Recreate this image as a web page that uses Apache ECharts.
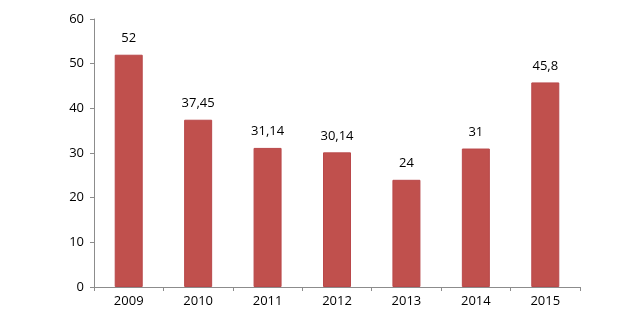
<!DOCTYPE html>
<html>
<head>
<meta charset="utf-8">
<script src="https://cdn.jsdelivr.net/npm/echarts@6/dist/echarts.min.js"></script>
<style>
	html, body { margin: 0; padding: 0; background: #fff; }
	#chart { width: 640px; height: 327px; }
</style>
</head>
<body>
<div id="chart"></div>
<script>
	var years = ['2009', '2010', '2011', '2012', '2013', '2014', '2015'];
	var values = [52, 37.45, 31.14, 30.14, 24, 31, 45.8];
	var yTicks = [0, 10, 20, 30, 40, 50, 60];

	var axisColor = '#8c8c8c';
	var font = 'Open Sans';

	var myChart = echarts.init(document.getElementById('chart'));
	myChart.setOption({
		animation: false,
		grid: { left: 94, right: 60, top: 19, bottom: 40 },
		xAxis: {
			type: 'category',
			data: years,
			axisLine: { lineStyle: { color: axisColor, width: 1 } },
			axisTick: { show: true, length: 4, lineStyle: { color: axisColor } },
			axisLabel: { color: '#000', fontSize: 13, fontFamily: font, margin: 8 }
		},
		yAxis: {
			type: 'value',
			min: yTicks[0],
			max: yTicks[yTicks.length - 1],
			interval: 10,
			splitLine: { show: false },
			axisLine: { show: true, lineStyle: { color: axisColor, width: 1 } },
			axisTick: { show: true, length: 4, lineStyle: { color: axisColor } },
			axisLabel: { color: '#000', fontSize: 13, fontFamily: font, margin: 10 }
		},
		series: [{
			type: 'bar',
			data: values,
			barWidth: 28,
			itemStyle: { color: '#c0504d', borderColor: '#b9484a', borderWidth: 1 },
			label: {
				show: true,
				position: 'top',
				distance: 10,
				color: '#000',
				fontSize: 13,
				fontFamily: font,
				formatter: function (p) {
					return String(p.value).replace('.', ',');
				}
			}
		}]
	});
</script>
</body>
</html>
